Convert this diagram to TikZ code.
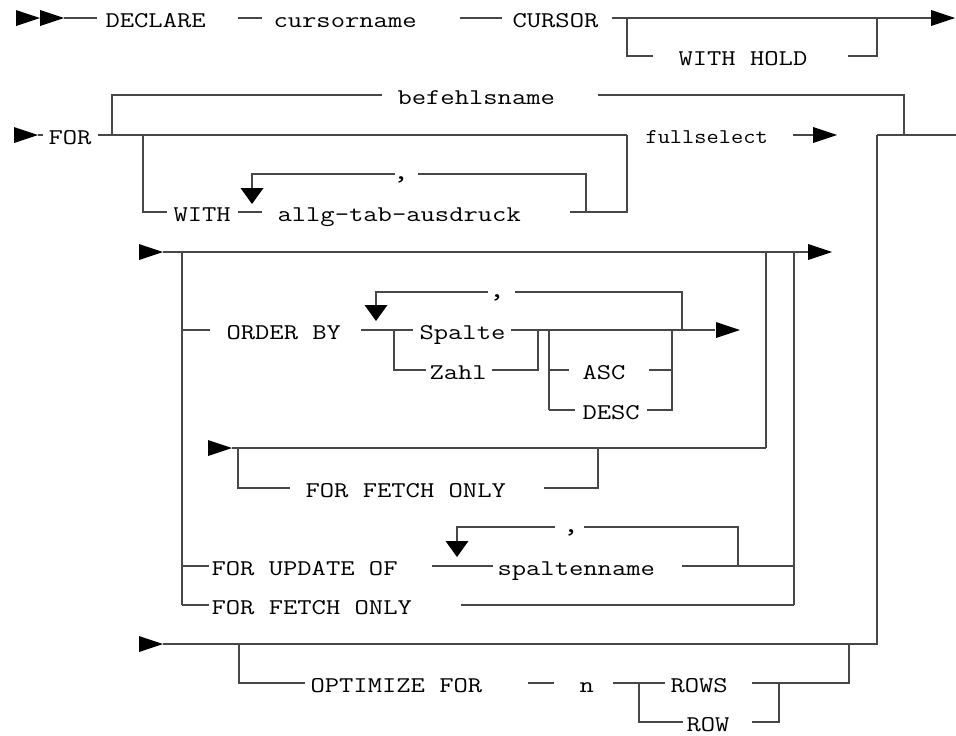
\documentclass[tikz,border=0pt]{standalone}
\usepackage{graphicx}
\newcommand\mytx[1]{\scalebox{1.235}[1]{#1}}
\newcommand\mysm[1]{\scalebox{1.13}[1]{#1}}
\newcommand\rtip[2]{\fill[black] (#1,#2) -- ++(-24,-8) -- ++(0,16) -- cycle;}
\newcommand\dtip[2]{\fill[black] (#1,#2) -- ++(-11.5,-16) -- ++(23,0) -- cycle;}
\begin{document}
\begin{tikzpicture}[x=1pt,y=-1pt,line width=1.1pt,color=black!72,
  lbl/.style={inner sep=0pt, anchor=base west, text=black, font=\fontsize{22.5}{24}\selectfont\ttfamily},
  lblsm/.style={lbl, font=\fontsize{21}{23}\selectfont\ttfamily},
  cma/.style={lbl, anchor=base, font=\fontsize{26}{28}\selectfont\ttfamily}]
\useasboundingbox (0,0) rectangle (956,736);
% ---------- row 1
\rtip{40}{18}\rtip{64}{18}
\draw (64,18)--(97,18);
\node[lbl] (declare) at (105,27.5) {\mytx{DECLARE}};
\draw (238,18)--(262,18);
\node[lbl] (cursorname) at (273,27.5) {\mytx{cursorname}};
\draw (460,18)--(502,18);
\node[lbl] (cursor) at (512,27.5) {\mytx{CURSOR}};
\draw (612,18)--(934,18);
\rtip{955}{18}
\draw (627,18)|-(653,56);
\node[lbl] (withhold) at (678,65.5) {\mytx{WITH HOLD}};
\draw (848,56)-|(877,18);
% ---------- row 2
\rtip{38}{135}
\draw (38,135)--(43,135);
\node[lbl] (for) at (48,144.5) {\mytx{FOR}};
\draw (98,135)--(627,135);
\draw (112,135)|-(382,95);
\node[lbl] (befehl) at (397,104.5) {\mytx{befehlsname}};
\draw (598,95)-|(904,135);
\draw (877,135)--(956,135);
\node[lblsm] (fullselect) at (645,143) {\mysm{fullselect}};
\draw (793,135)--(813,135);
\rtip{837}{135}
\draw (143,135)|-(167,212);
\node[lbl] (with) at (173,221.5) {\mytx{WITH}};
\draw (238,212)--(262,212);
\node[lbl] (allg) at (277,221.5) {\mytx{allg-tab-ausdruck}};
\draw (570,212)-|(627,135);
\draw (586,212)|-(418,174);
\node[cma] (c1) at (401,179) {\mytx{,}};
\draw (395,174)-|(252,188);
\dtip{252}{204}
% ---------- block 3
\rtip{163}{252}
\draw (163,252)--(808,252);
\rtip{832}{252}
\draw (182,252)--(182,605);
\draw (766,252)--(766,448);
\draw (794,252)--(794,605);
% ORDER BY
\draw (182,330)--(210,330);
\node[lbl] (orderby) at (226,339.5) {\mytx{ORDER BY}};
\draw (361,330)--(413,330);
\node[lbl] (spalte) at (419,339.5) {\mytx{Spalte}};
\draw (511,330)--(715,330);
\rtip{740}{330}
\draw (394,330)|-(426,370);
\node[lbl] (zahl) at (429,379.5) {\mytx{Zahl}};
\draw (492,370)-|(538,330);
\draw (549,330)--(549,410);
\draw (549,370)--(569,370);
\node[lbl] (asc) at (582,379.5) {\mytx{ASC}};
\draw (649,370)-|(672,330);
\draw (549,410)--(575,410);
\node[lbl] (desc) at (582,419.5) {\mytx{DESC}};
\draw (647,410)-|(672,370);
\draw (682,330)|-(515,292);
\node[cma] (c2) at (497,297) {\mytx{,}};
\draw (488,292)-|(376,305);
\dtip{376}{321}
% FOR FETCH ONLY (1)
\rtip{232}{448}
\draw (232,448)--(766,448);
\draw (238,448)|-(290,488);
\node[lbl] (ffo1) at (305,497.5) {\mytx{FOR FETCH ONLY}};
\draw (544,488)-|(598,448);
% FOR UPDATE OF
\draw (182,566)--(209,566);
\node[lbl] (fuo) at (211,575.5) {\mytx{FOR UPDATE OF}};
\draw (432,566)--(493,566);
\node[lbl] (spaltenname) at (497,575.5) {\mytx{spaltenname}};
\draw (682,566)--(794,566);
\draw (738,566)|-(584,527);
\node[cma] (c3) at (571,532) {\mytx{,}};
\draw (555,527)-|(457,541);
\dtip{457}{557}
% FOR FETCH ONLY (2)
\draw (182,605)--(209,605);
\node[lbl] (ffo2) at (211,614.5) {\mytx{FOR FETCH ONLY}};
\draw (461,605)--(794,605);
% ---------- OPTIMIZE
\rtip{163}{644}
\draw (163,644)-|(877,135);
\draw (239,644)|-(305,683);
\node[lbl] (optimize) at (310,692.5) {\mytx{OPTIMIZE FOR}};
\draw (528,683)--(554,683);
\node[lbl] (n) at (579,692.5) {\mytx{n}};
\draw (613,683)--(665,683);
\node[lbl] (rows) at (670,692.5) {\mytx{ROWS}};
\draw (752,683)-|(849,644);
\draw (639,683)|-(683,722);
\node[lbl] (row) at (686,731) {\mytx{ROW}};
\draw (752,722)-|(779,683);
\end{tikzpicture}
\end{document}
